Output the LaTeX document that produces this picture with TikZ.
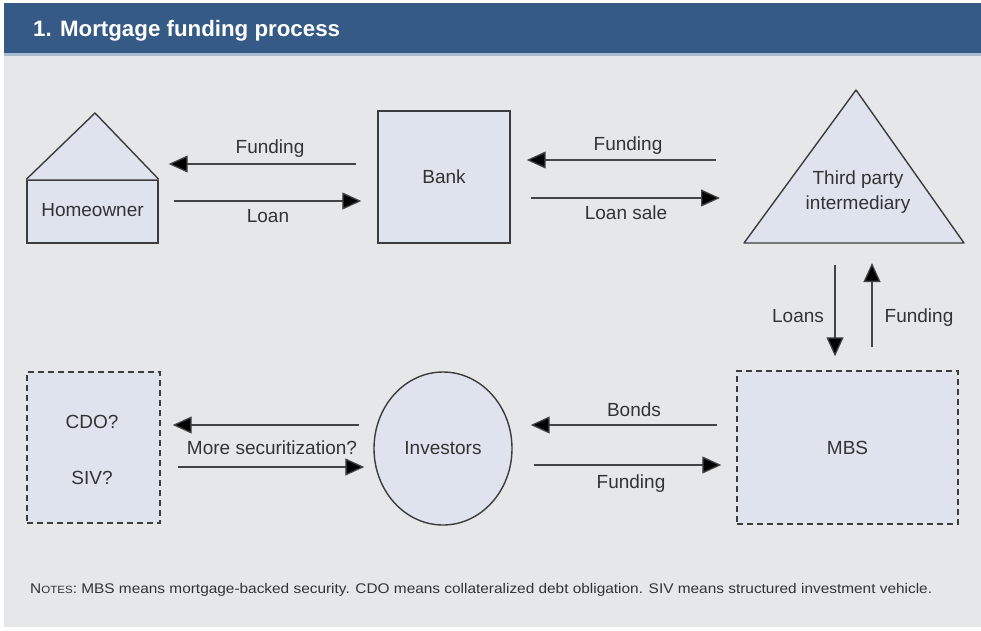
\documentclass[tikz,border=0pt]{standalone}
\usepackage{fontspec}
\setmainfont{Liberation Sans}
\usetikzlibrary{arrows.meta,shapes.geometric}
\definecolor{hdrblue}{HTML}{345A85}
\definecolor{hdrline}{HTML}{A9BBD0}
\definecolor{panelgray}{HTML}{E6E7E9}
\definecolor{shapefill}{HTML}{DFE3EE}
\definecolor{edgegray}{HTML}{3C3C3C}
\definecolor{arrowgray}{HTML}{444444}
\definecolor{txtgray}{HTML}{333333}
\tikzset{
  lbl/.style={font=\fontsize{19}{22}\selectfont, text=txtgray, inner sep=0pt},
  shapebox/.style={draw=edgegray, fill=shapefill, line width=1.4pt, inner sep=0pt,
    font=\fontsize{19}{22}\selectfont, text=txtgray},
  dashbox/.style={shapebox, dash pattern=on 6pt off 4pt},
  flow/.style={draw=arrowgray, line width=1.3pt, -{Triangle[length=19pt,width=17pt,fill=black]}}
}
\begin{document}
\begin{tikzpicture}[x=1pt,y=-1pt]
\useasboundingbox (0,0) rectangle (981,630);
\fill[white] (0,0) rectangle (981,630);
\fill[panelgray] (4,55) rectangle (981,627);
\fill[hdrblue] (4,3) rectangle (981,53);
\fill[hdrline] (4,53) rectangle (981,55.5);
\node[anchor=west, text=white, inner sep=0pt, font=\bfseries\fontsize{22.3}{26}\selectfont]
  (title) at (33,31) {1. Mortgage funding process};

% top row: homeowner, bank, intermediary
\node[shapebox, minimum width=131pt, minimum height=63pt, text depth=1pt] (home) at (92.5,211.5) {\raisebox{2pt}{Homeowner}};
\filldraw[draw=edgegray, fill=shapefill, line width=1.4pt, line join=miter]
  (home.north west) -- (95,113) -- (home.north east);
\draw[draw=edgegray!70, line width=1pt] (home.north west) -- (home.north east);
\node[shapebox, minimum width=132pt, minimum height=132pt] (bank) at (444,177) {Bank};

\coordinate (tA) at (856,90);
\coordinate (tL) at (744,243);
\coordinate (tR) at (964,243);
\filldraw[draw=edgegray, fill=shapefill, line width=1.4pt, line join=round] (tA) -- (tL) -- (tR) -- cycle;
\node[lbl, align=center, font=\fontsize{19}{25}\selectfont] (tpi) at (858,192) {Third party\\intermediary};

% bottom row: CDO/SIV, investors, MBS
\node[dashbox, minimum width=133pt, minimum height=151pt] (cdo) at (93.5,447.5) {};
\node[lbl] (cdoq) at (92,422) {CDO?};
\node[lbl] (sivq) at (92,478) {SIV?};
\node[shapebox, ellipse, minimum width=138pt, minimum height=153pt] (inv) at (443,448.5) {Investors};
\node[dashbox, minimum width=221pt, minimum height=153pt] (mbs) at (847.5,447.5) {MBS};

% flows between homeowner and bank
\draw[flow, shorten <=21pt, shorten >=10pt] (bank.west |- 0,164) -- (home.east |- 0,164);
\draw[flow, shorten <=15pt, shorten >=16pt] (home.east |- 0,201) -- (bank.west |- 0,201);
\node[lbl] (f1) at (270,149) {Funding};
\node[lbl] (l1) at (268,216) {Loan};

% flows between bank and intermediary
\draw[flow, shorten <=28pt, shorten >=16pt] (tL |- 0,160) -- (bank.east |- 0,160);
\draw[flow, shorten <=20pt, shorten >=24pt] (bank.east |- 0,198) -- (tL |- 0,198);
\node[lbl] (f2) at (628,146) {Funding};
\node[lbl] (l2) at (626,213) {Loan sale};

% flows between intermediary and MBS
\draw[flow, shorten <=22pt, shorten >=14pt] (835,0 |- tL) -- (835,0 |- mbs.north);
\draw[flow, shorten <=23pt, shorten >=20pt] (872,0 |- mbs.north) -- (872,0 |- tL);
\node[lbl] (l3) at (798,316) {Loans};
\node[lbl] (f3) at (919,318) {Funding};

% flows between MBS and investors
\draw[flow, shorten <=19pt, shorten >=18pt] (mbs.west |- 0,425) -- (inv.east |- 0,425);
\draw[flow, shorten <=21pt, shorten >=15pt] (inv.east |- 0,465) -- (mbs.west |- 0,465);
\node[lbl] (b4) at (634,410) {Bonds};
\node[lbl] (f4) at (631,484) {Funding};

% flows between investors and further securitization
\draw[flow, shorten <=14pt, shorten >=12pt] (inv.west |- 0,425) -- (cdo.east |- 0,425);
\draw[flow, shorten <=17pt, shorten >=9pt] (cdo.east |- 0,467) -- (inv.west |- 0,467);
\node[lbl] (ms) at (272,448) {More securitization?};

% footnote
\node[anchor=west, inner sep=0pt, text=txtgray, font=\fontsize{14}{16}\selectfont] (notes) at (30,590)
  {\scalebox{1.1}[1]{N{\fontsize{10.5}{12}\selectfont OTES}: MBS means mortgage-backed security. CDO means collateralized debt obligation. SIV means structured investment vehicle.}};
\end{tikzpicture}
\end{document}
